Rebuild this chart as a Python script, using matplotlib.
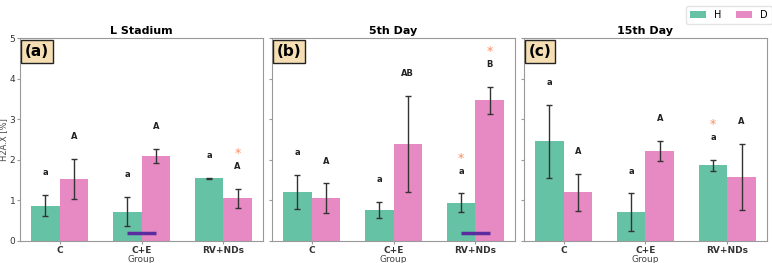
import matplotlib
matplotlib.use("Agg")
import matplotlib.pyplot as plt
import numpy as np

groups = ["C", "C+E", "RV+NDs"]
panels = ["L Stadium", "5th Day", "15th Day"]
panel_tags = ["(a)", "(b)", "(c)"]

h_means = [[0.87, 0.72, 1.54], [1.20, 0.76, 0.94], [2.46, 0.71, 1.86]]
h_errs = [[0.26, 0.36, 0.02], [0.42, 0.20, 0.23], [0.90, 0.46, 0.13]]
d_means = [[1.53, 2.09, 1.05], [1.06, 2.39, 3.47], [1.20, 2.22, 1.58]]
d_errs = [[0.49, 0.18, 0.24], [0.36, 1.18, 0.33], [0.45, 0.25, 0.82]]

h_letters = [["a", "a", "a"], ["a", "a", "a"], ["a", "a", "a"]]
d_letters = [["A", "A", "A"], ["A", "AB", "B"], ["A", "A", "A"]]
# stars: (panel, group, series)
stars = [(0, 2, "D"), (1, 2, "H"), (1, 2, "D"), (2, 2, "H")]
# purple line markers: (panel, group)
lines = [(0, 1), (1, 2)]

green = "#66c2a5"
pink = "#e78ac3"
orange = "#fc8d62"
purple = "#5b2c9f"
spine_c = "#999999"

fig, axes = plt.subplots(1, 3, figsize=(7.72, 2.63), dpi=100, sharey=True)
fig.subplots_adjust(left=0.026, right=0.9935, top=0.8555, bottom=0.0837, wspace=0.037)

x = np.arange(len(groups))
w = 0.35
for i, ax in enumerate(axes):
    ax.bar(x - w/2, h_means[i], w, color=green, label="H", zorder=2)
    ax.bar(x + w/2, d_means[i], w, color=pink, label="D", zorder=2)
    ax.errorbar(x - w/2, h_means[i], yerr=h_errs[i], fmt="none", ecolor="#333333",
                elinewidth=1, capsize=2.5, capthick=1, zorder=3)
    ax.errorbar(x + w/2, d_means[i], yerr=d_errs[i], fmt="none", ecolor="#333333",
                elinewidth=1, capsize=2.5, capthick=1, zorder=3)
    for j in range(len(groups)):
        yh = h_means[i][j] + h_errs[i][j] + 0.55
        yd = d_means[i][j] + d_errs[i][j] + 0.55
        ax.text(x[j] - w/2, yh, h_letters[i][j], ha="center", va="center",
                fontsize=6, fontweight="bold", color="#222222")
        ax.text(x[j] + w/2, yd, d_letters[i][j], ha="center", va="center",
                fontsize=6, fontweight="bold", color="#222222")
    for (p, g, s) in stars:
        if p == i:
            if s == "H":
                xs = x[g] - w/2
                ys = h_means[i][g] + h_errs[i][g] + 0.55 + 0.32
            else:
                xs = x[g] + w/2
                ys = d_means[i][g] + d_errs[i][g] + 0.55 + 0.32
            ax.text(xs, ys, "*", ha="center", va="center", fontsize=9,
                    color=orange)
    for (p, g) in lines:
        if p == i:
            ax.plot([x[g] - w/2, x[g] + w/2], [0.2, 0.2], color=purple,
                    linewidth=2.5, solid_capstyle="butt", zorder=4)
    ax.set_title(panels[i], fontsize=8, fontweight="bold", pad=3)
    ax.set_xticks(x)
    ax.set_xticklabels(groups, fontsize=6.5, fontweight="bold")
    ax.set_ylim(0, 5)
    ax.set_yticks([0, 1, 2, 3, 4, 5])
    ax.tick_params(axis="both", labelsize=6.5, length=2.5, pad=1, colors="#333333")
    ax.tick_params(axis="both", color=spine_c)
    for sp in ax.spines.values():
        sp.set_color(spine_c)
    ax.set_xlabel("Group", fontsize=6.5, labelpad=0, color="#444444")
    ax.text(0.02, 0.97, panel_tags[i], transform=ax.transAxes, ha="left", va="top",
            fontsize=11, fontweight="bold",
            bbox=dict(boxstyle="square,pad=0.25", facecolor="#f5deb3",
                      edgecolor="#222222", linewidth=1))

axes[0].set_ylabel("H2A.X [%]", fontsize=6, labelpad=1, color="#444444")

handles, labels = axes[0].get_legend_handles_labels()
fig.legend(handles, labels, loc="upper right", bbox_to_anchor=(1.006, 0.995), ncol=2,
           fontsize=7, frameon=True, edgecolor="#dddddd", handlelength=1.7,
           handleheight=0.7, columnspacing=1.5, borderpad=0.4, handletextpad=0.8)

fig.savefig("out.png", dpi=100)
